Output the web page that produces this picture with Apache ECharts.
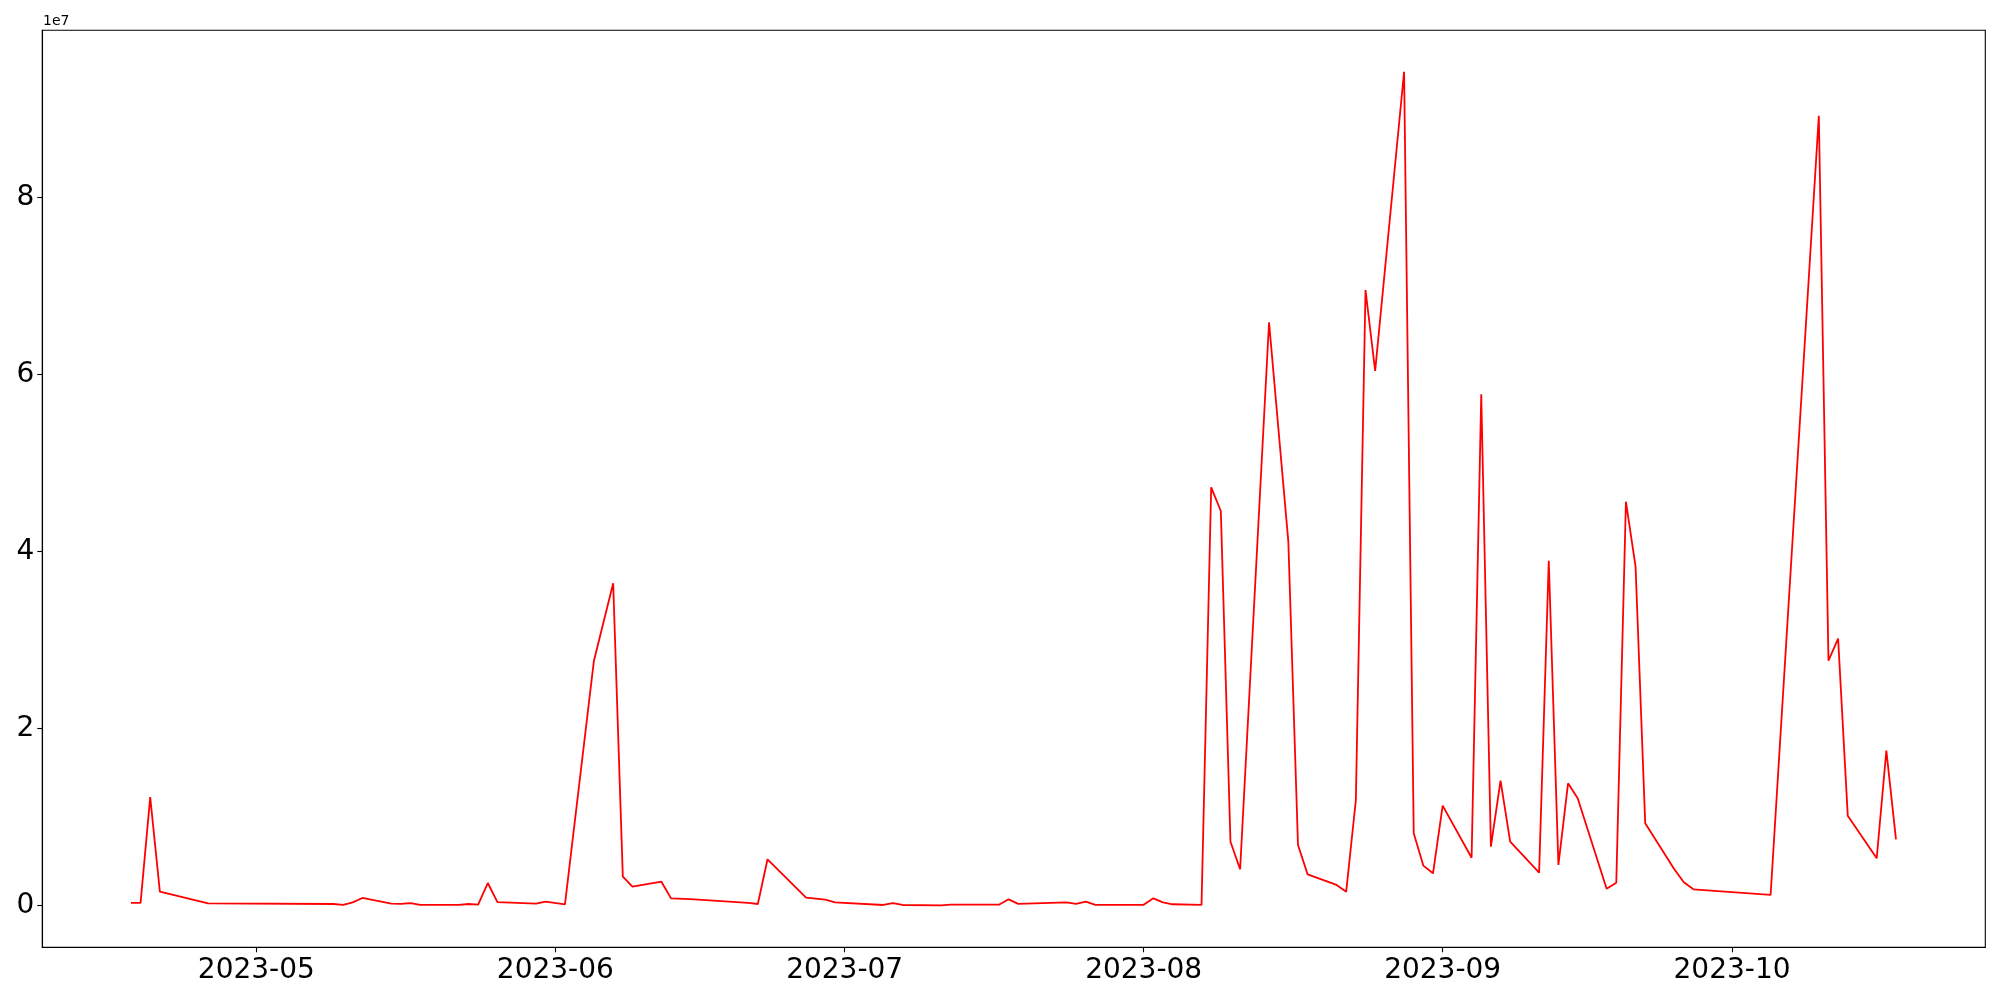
<!DOCTYPE html>
<html>
<head>
<meta charset="utf-8">
<script src="https://cdn.jsdelivr.net/npm/echarts@6/dist/echarts.min.js"></script>
<style>
html,body{margin:0;padding:0;background:#fff;}
#chart{width:2000px;height:1000px;}
</style>
</head>
<body>
<div id="chart"></div>
<script>
// ---- data ----
const dates = [
 '2023-04-18','2023-04-19','2023-04-20','2023-04-21','2023-04-26',
 '2023-05-09','2023-05-10','2023-05-11','2023-05-12','2023-05-15','2023-05-16','2023-05-17','2023-05-18',
 '2023-05-22','2023-05-23','2023-05-24','2023-05-25','2023-05-26','2023-05-30','2023-05-31',
 '2023-06-02','2023-06-05','2023-06-07','2023-06-08','2023-06-09','2023-06-12','2023-06-13','2023-06-15',
 '2023-06-21','2023-06-22','2023-06-23','2023-06-27','2023-06-29','2023-06-30',
 '2023-07-05','2023-07-06','2023-07-07','2023-07-11','2023-07-12','2023-07-17','2023-07-18','2023-07-19',
 '2023-07-24','2023-07-25','2023-07-26','2023-07-27',
 '2023-08-01','2023-08-02','2023-08-03','2023-08-04','2023-08-07','2023-08-08','2023-08-09','2023-08-10','2023-08-11',
 '2023-08-14','2023-08-16','2023-08-17','2023-08-18','2023-08-21','2023-08-22','2023-08-23','2023-08-24','2023-08-25',
 '2023-08-28','2023-08-29','2023-08-30','2023-08-31','2023-09-01',
 '2023-09-04','2023-09-05','2023-09-06','2023-09-07','2023-09-08',
 '2023-09-11','2023-09-12','2023-09-13','2023-09-14','2023-09-15',
 '2023-09-18','2023-09-19','2023-09-20','2023-09-21','2023-09-22',
 '2023-09-25','2023-09-26','2023-09-27','2023-10-05',
 '2023-10-10','2023-10-11','2023-10-12','2023-10-13','2023-10-16','2023-10-17','2023-10-18'
];
const values = [
 300000, 300000, 12260000, 1570000, 260000,
 180000, 90000, 370000, 860000, 220000, 200000, 290000, 90000,
 80000, 180000, 100000, 2550000, 400000, 220000, 460000,
 150000, 27630000, 36400000, 3270000, 2140000, 2700000, 820000, 740000,
 300000, 180000, 5230000, 900000, 670000, 370000,
 70000, 290000, 70000, 20000, 100000, 100000, 710000, 200000,
 370000, 200000, 440000, 90000,
 90000, 820000, 370000, 150000, 90000, 47240000, 44570000, 7220000, 4100000,
 65880000, 41100000, 6840000, 3530000, 2330000, 1570000, 11930000, 69530000, 60400000,
 94180000, 8160000, 4510000, 3650000, 11290000,
 5410000, 57750000, 6660000, 14110000, 7220000,
 3720000, 38950000, 4590000, 13810000, 12120000,
 1910000, 2590000, 45620000, 38280000, 9290000,
 4130000, 2630000, 1840000, 1200000,
 89210000, 27660000, 30150000, 10160000, 5340000, 17500000, 7490000
];
const yTickValues = [0, 20000000, 40000000, 60000000, 80000000];
const xTickDates = ['2023-05-01','2023-06-01','2023-07-01','2023-08-01','2023-09-01','2023-10-01'];

function ts(s, h, mi) {
  const p = s.split('-').map(Number);
  return Date.UTC(p[0], p[1] - 1, p[2], h || 0, mi || 0);
}
const seriesData = dates.map((d, i) => [ts(d), values[i]]);
const xTicks = xTickDates.map(d => ts(d));

const FONT = 'DejaVu Sans';
const chart = echarts.init(document.getElementById('chart'), null, {renderer: 'canvas'});
chart.setOption({
  backgroundColor: '#ffffff',
  animation: false,
  grid: {
    left: 42.3, right: 14.7, top: 30.3, bottom: 52.7,
    show: true, borderColor: '#000', borderWidth: 1.1, backgroundColor: 'transparent'
  },
  xAxis: {
    type: 'value',
    min: ts('2023-04-08', 19, 29),
    max: ts('2023-10-27', 6, 14),
    scale: true,
    splitLine: {show: false},
    axisLine: {show: true, onZero: false, lineStyle: {color: '#000', width: 1.1}},
    axisTick: {show: true, inside: false, length: 5, customValues: xTicks, lineStyle: {color: '#000', width: 1.1}},
    axisLabel: {
      customValues: xTicks,
      margin: 9,
      color: '#000',
      fontFamily: FONT,
      fontSize: 28,
      formatter: function (v) {
        const d = new Date(v);
        const m = d.getUTCMonth() + 1;
        return d.getUTCFullYear() + '-' + (m < 10 ? '0' + m : m);
      }
    }
  },
  yAxis: {
    type: 'value',
    min: -4710000,
    max: 98860000,
    splitLine: {show: false},
    axisLine: {show: true, onZero: false, lineStyle: {color: '#000', width: 1.1}},
    axisTick: {show: true, inside: false, length: 5, customValues: yTickValues, lineStyle: {color: '#000', width: 1.1}},
    axisLabel: {
      customValues: yTickValues,
      margin: 8,
      color: '#000',
      fontFamily: FONT,
      fontSize: 28,
      formatter: function (v) { return String(Math.round(v / 1e7)); }
    }
  },
  graphic: [{
    type: 'text',
    left: 43, top: 14,
    style: {text: '1e7', fill: '#000', font: '14px "DejaVu Sans"'}
  }],
  series: [{
    type: 'line',
    data: seriesData,
    showSymbol: false,
    symbol: 'none',
    lineStyle: {color: '#ff0000', width: 1.8},
    itemStyle: {color: '#ff0000'},
    z: 3
  }]
});
</script>
</body>
</html>
